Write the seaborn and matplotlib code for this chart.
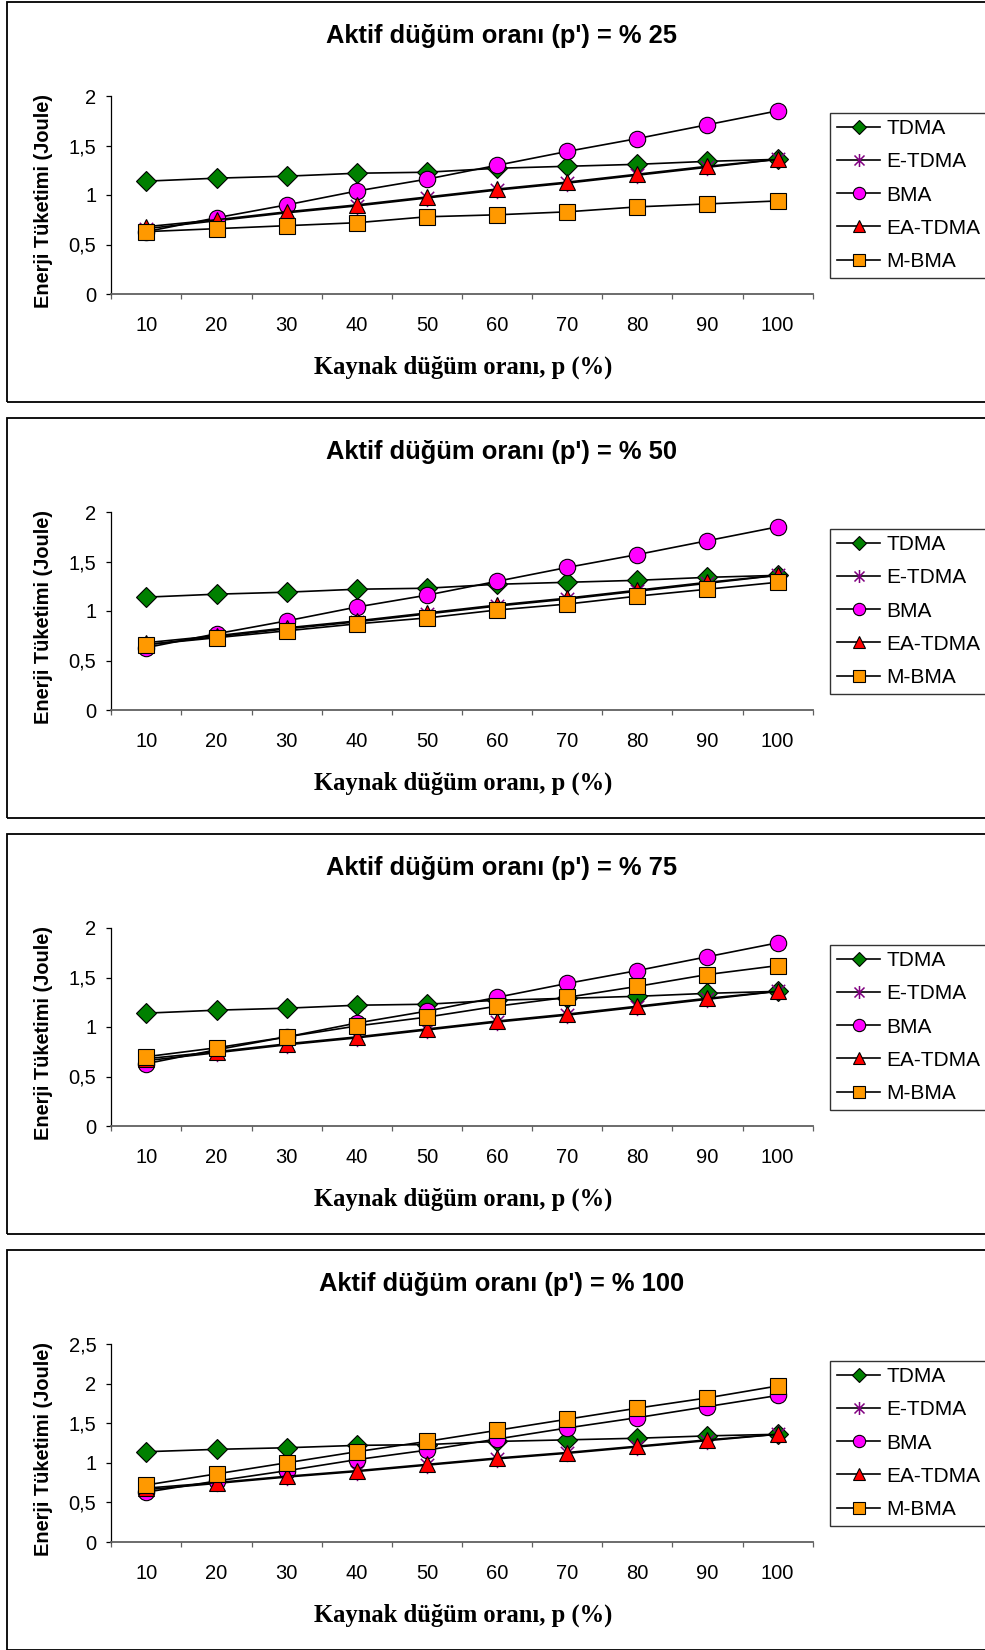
import numpy as np
import pandas as pd
import matplotlib
matplotlib.use("Agg")
import matplotlib.pyplot as plt
from matplotlib.path import Path
from matplotlib.patches import Rectangle
from matplotlib.ticker import FuncFormatter, MultipleLocator, FixedLocator
import seaborn as sns

plt.rcParams['font.family'] = ['Liberation Sans', 'DejaVu Sans']

# ---------------- data ----------------
p_values = [10, 20, 30, 40, 50, 60, 70, 80, 90, 100]
x_tick_labels = ["10", "20", "30", "40", "50", "60", "70", "80", "90", "100"]
active_ratios = [25, 50, 75, 100]
series_names = ["TDMA", "E-TDMA", "BMA", "EA-TDMA", "M-BMA"]

tdma = [1.14, 1.17, 1.19, 1.22, 1.23, 1.27, 1.29, 1.31, 1.34, 1.36]
e_tdma = [0.66, 0.74, 0.82, 0.89, 0.97, 1.05, 1.12, 1.20, 1.28, 1.36]
bma = [0.63, 0.77, 0.90, 1.04, 1.16, 1.30, 1.44, 1.57, 1.71, 1.85]
ea_tdma = [0.68, 0.75, 0.83, 0.90, 0.98, 1.06, 1.13, 1.21, 1.29, 1.36]
m_bma_25 = [0.63, 0.66, 0.69, 0.72, 0.78, 0.80, 0.83, 0.88, 0.91, 0.94]
m_bma_50 = [0.66, 0.73, 0.80, 0.87, 0.93, 1.01, 1.07, 1.15, 1.22, 1.29]
m_bma_75 = [0.70, 0.79, 0.90, 1.01, 1.10, 1.21, 1.30, 1.41, 1.53, 1.62]
m_bma_100 = [0.72, 0.86, 1.00, 1.14, 1.27, 1.41, 1.55, 1.69, 1.82, 1.97]
m_bma_by_panel = [m_bma_25, m_bma_50, m_bma_75, m_bma_100]
y_max_by_panel = [2.0, 2.0, 2.0, 2.5]

# ---------------- styles ----------------
star_path = Path(
    [(-1, -1), (1, 1), (-1, 1), (1, -1), (0, -1.3), (0, 1.3)],
    [Path.MOVETO, Path.LINETO, Path.MOVETO, Path.LINETO, Path.MOVETO, Path.LINETO],
)
styles = {
    "TDMA": dict(marker="D", markersize=9.8, markerfacecolor="#008000", markeredgecolor="black"),
    "E-TDMA": dict(marker=star_path, markersize=12.5, markerfacecolor="none", markeredgecolor="#800080",
                   markeredgewidth=1.1),
    "BMA": dict(marker="o", markersize=11.8, markerfacecolor="#FF00FF", markeredgecolor="black"),
    "EA-TDMA": dict(marker="^", markersize=12.2, markerfacecolor="#FF0000", markeredgecolor="black"),
    "M-BMA": dict(marker="s", markersize=11, markerfacecolor="#FF9900", markeredgecolor="black"),
}

W, H = 985, 1650
fig = plt.figure(figsize=(W / 100, H / 100), dpi=100)

def fx(px):
    return px / W

def fy(py):
    return 1 - py / H

ax_left, ax_right = 111.3, 812.7
for k, ratio in enumerate(active_ratios):
    T = 2 + 416 * k
    # panel frame (right side runs off the image)
    fig.patches.append(Rectangle((fx(7.3), fy(T + 400)), fx(1100), 400 / H,
                                 transform=fig.transFigure, fill=False,
                                 edgecolor="black", linewidth=1.3))
    ax = fig.add_axes([fx(ax_left), fy(T + 292), fx(ax_right - ax_left), 198 / H])

    series_values = [tdma, e_tdma, bma, ea_tdma, m_bma_by_panel[k]]
    for name, vals in zip(series_names, series_values):
        st = dict(styles[name])
        if "markeredgewidth" not in st:
            st["markeredgewidth"] = 0.8
        sns.lineplot(x=p_values, y=vals, ax=ax, color="black", linewidth=1.2,
                     label=name, legend=False, **st)

    ax.set_xlim(5, 105)
    ax.set_ylim(0, y_max_by_panel[k])
    ax.xaxis.set_major_locator(FixedLocator(np.arange(5, 106, 10)))
    ax.xaxis.set_minor_locator(FixedLocator(p_values))
    ax.set_xticklabels([], minor=False)
    ax.set_xticklabels(x_tick_labels, minor=True)
    ax.tick_params(axis="x", which="major", length=3.6, width=0.9, direction="out", color="#606060")
    ax.tick_params(axis="x", which="minor", length=0, pad=16, labelsize=14.5)
    ax.yaxis.set_major_locator(MultipleLocator(0.5))
    ax.yaxis.set_major_formatter(FuncFormatter(lambda v, pos: ("%g" % v).replace(".", ",")))
    ax.tick_params(axis="y", length=3.6, width=0.9, direction="out", pad=7.2, labelsize=14.5)

    for s in ["top", "right"]:
        ax.spines[s].set_visible(False)
    ax.spines["left"].set_color("black")
    ax.spines["left"].set_linewidth(0.9)
    ax.spines["bottom"].set_color("#606060")
    ax.spines["bottom"].set_linewidth(1.3)
    ax.set_facecolor("none")

    ax.set_xlabel("Kaynak düğüm oranı, p (%)", fontsize=17.7, fontweight="bold",
                  family=["Liberation Serif", "DejaVu Serif"])
    ax.xaxis.set_label_coords((463 - ax_left) / (ax_right - ax_left), -(365 - 292) / 198)
    ax.xaxis.label.set_verticalalignment("center")
    ax.set_ylabel("Enerji Tüketimi (Joule)", fontsize=14.4, fontweight="bold")
    ax.yaxis.set_label_coords((44 - ax_left) / (ax_right - ax_left), (292 - 199) / 198)
    ax.yaxis.label.set_verticalalignment("center")
    ax.yaxis.label.set_horizontalalignment("center")

    fig.text(fx(501.7), fy(T + 33.5), f"Aktif düğüm oranı (p') = % {ratio}",
             ha="center", va="center", fontsize=18.4, fontweight="bold")

    handles = ax.get_lines()[:5]
    leg = ax.legend(handles, series_names, loc="upper left",
                    bbox_to_anchor=(fx(830), fy(T + 110.6)), bbox_transform=fig.transFigure,
                    borderaxespad=0, fancybox=False, frameon=True, fontsize=15,
                    handlelength=2.1, handletextpad=0.3, labelspacing=0.68,
                    borderpad=0.32, markerscale=0.75, numpoints=1)
    leg.get_frame().set_edgecolor("black")
    leg.get_frame().set_linewidth(1.0)

fig.savefig("out.png", dpi=100)
